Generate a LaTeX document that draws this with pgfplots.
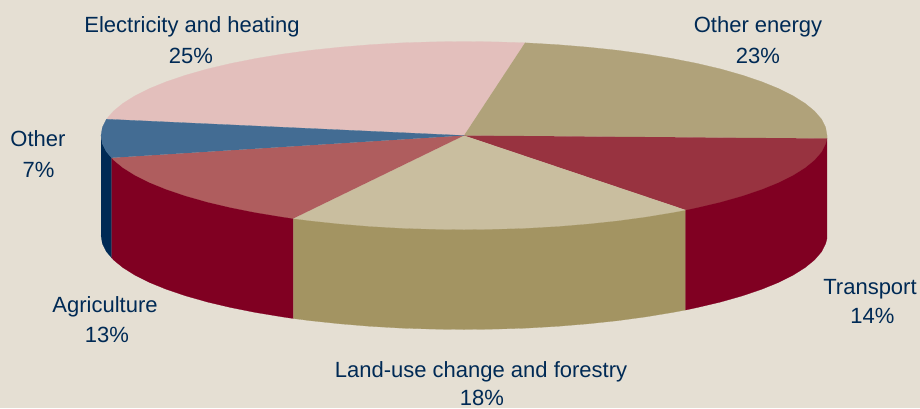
\documentclass[border=0pt]{standalone}
\usepackage{fontspec}
\setmainfont{Liberation Sans}
\usepackage{pgfplots}
\pgfplotsset{compat=1.18}
\definecolor{bg}{RGB}{229,223,211}
\definecolor{txt}{RGB}{0,42,85}
\definecolor{pinktop}{RGB}{227,191,188}
\definecolor{tantop}{RGB}{176,162,122}
\definecolor{redtop}{RGB}{152,51,64}
\definecolor{creamtop}{RGB}{201,190,159}
\definecolor{rosetop}{RGB}{175,93,94}
\definecolor{bluetop}{RGB}{67,108,147}
\definecolor{wine}{RGB}{128,0,34}
\definecolor{tanwall}{RGB}{163,148,98}
\definecolor{navy}{RGB}{0,42,85}
\newcommand{\lab}[3]{\node[anchor=base,text=txt,font=\fontsize{22}{26}\selectfont,inner sep=0pt] at (axis cs:#1,#2) {#3};}
\begin{document}
\begin{tikzpicture}
\begin{axis}[
    scale only axis, width=920pt, height=408pt,
    xmin=1, xmax=921, ymin=-0.5, ymax=407.5, y dir=reverse,
    hide axis, clip=false
    ]
% background
\addplot[fill=bg, draw=none] coordinates {(1,-0.5) (921,-0.5) (921,407.5) (1,407.5)};
% side walls
\addplot[fill=navy, draw=navy, line width=.2pt] coordinates {(102,135) (103.4,143.2) (107.5,151.3) (112.7,157.3) (112.7,257.3) (107.5,251.3) (103.4,243.2) (102,235)};
\addplot[fill=wine, draw=wine, line width=.2pt] coordinates {(112.7,157.3) (294.3,218) (294.3,318) (283.5,316.4) (256.8,312) (231.7,307) (208.3,301.5) (186.9,295.4) (167.6,288.9) (150.6,282) (136,274.7) (123.9,267.1) (114.4,259.3) (112.7,257.3)};
\addplot[fill=tanwall, draw=tanwall, line width=.2pt] coordinates {(294.3,218) (686.7,209.5) (686.7,309.5) (673.2,312) (646.5,316.4) (618.4,320.2) (589.1,323.3) (558.9,325.8) (528,327.6) (496.7,328.6) (465,329) (433.3,328.6) (402,327.6) (371.1,325.8) (340.9,323.3) (311.6,320.2) (294.3,318)};
\addplot[fill=wine, draw=wine, line width=.2pt] coordinates {(828,138) (686.7,209.5) (686.7,309.5) (698.3,307) (721.7,301.5) (743.1,295.4) (762.4,288.9) (779.4,282) (794,274.7) (806.1,267.1) (815.6,259.3) (822.5,251.3) (826.6,243.2) (828,238)};
% top face
\addplot[fill=pinktop, draw=pinktop, line width=.2pt] coordinates {(465,135) (526,42.3) (496.7,41.4) (465,41) (433.3,41.4) (402,42.4) (371.1,44.2) (340.9,46.7) (311.6,49.8) (283.5,53.6) (256.8,58) (231.7,63) (208.3,68.5) (186.9,74.6) (167.6,81.1) (150.6,88) (136,95.3) (123.9,102.9) (114.4,110.7) (107.5,118.7)};
\addplot[fill=tantop, draw=tantop, line width=.2pt] coordinates {(465,135) (828,138) (828,135) (826.6,126.8) (822.5,118.7) (815.6,110.7) (806.1,102.9) (794,95.3) (779.4,88) (762.4,81.1) (743.1,74.6) (721.7,68.5) (698.3,63) (673.2,58) (646.5,53.6) (618.4,49.8) (589.1,46.7) (558.9,44.2) (526,42.3)};
\addplot[fill=redtop, draw=redtop, line width=.2pt] coordinates {(465,135) (686.7,209.5) (698.3,207) (721.7,201.5) (743.1,195.4) (762.4,188.9) (779.4,182) (794,174.7) (806.1,167.1) (815.6,159.3) (822.5,151.3) (826.6,143.2) (828,138)};
\addplot[fill=creamtop, draw=creamtop, line width=.2pt] coordinates {(465,135) (294.3,218) (311.6,220.2) (340.9,223.3) (371.1,225.8) (402,227.6) (433.3,228.6) (465,229) (496.7,228.6) (528,227.6) (558.9,225.8) (589.1,223.3) (618.4,220.2) (646.5,216.4) (673.2,212) (686.7,209.5)};
\addplot[fill=rosetop, draw=rosetop, line width=.2pt] coordinates {(465,135) (112.7,157.3) (114.4,159.3) (123.9,167.1) (136,174.7) (150.6,182) (167.6,188.9) (186.9,195.4) (208.3,201.5) (231.7,207) (256.8,212) (283.5,216.4) (294.3,218)};
\addplot[fill=bluetop, draw=bluetop, line width=.2pt] coordinates {(465,135) (107.5,118.7) (103.4,126.8) (102,135) (103.4,143.2) (107.5,151.3) (112.7,157.3)};
% labels
\lab{193}{32}{Electricity and heating}
\lab{192}{63}{25\%}
\lab{759}{32}{Other energy}
\lab{759}{63}{23\%}
\lab{39}{146}{Other}
\lab{39.5}{177}{7\%}
\lab{106}{312}{Agriculture}
\lab{108}{342}{13\%}
\lab{482}{376.5}{Land-use change and forestry}
\lab{483}{404.5}{18\%}
\lab{871}{294}{Transport}
\lab{873.5}{323}{14\%}
\end{axis}
\end{tikzpicture}
\end{document}
